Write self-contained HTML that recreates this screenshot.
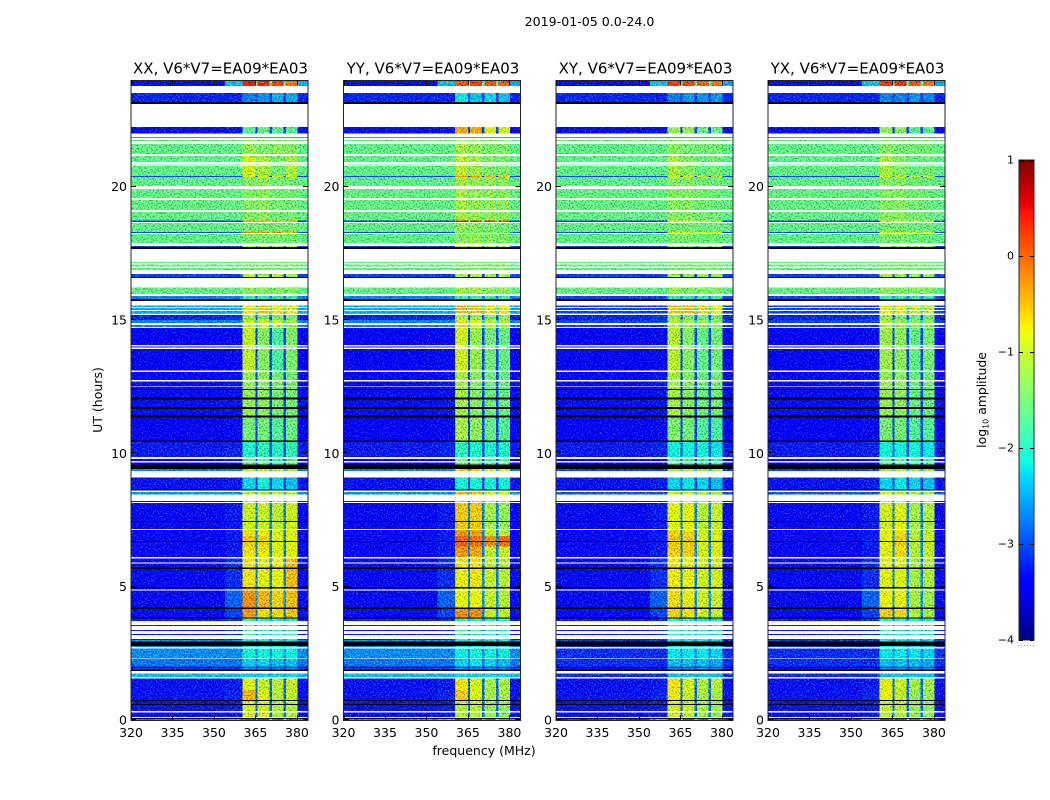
<!DOCTYPE html>
<html lang="en">
<head>
<meta charset="utf-8">
<title>2019-01-05 dynamic spectra</title>
<style>
html,body{margin:0;padding:0;background:#fff;}
svg{display:block;}
text{font-family:"DejaVu Sans","Liberation Sans",sans-serif;fill:#000;}
</style>
</head>
<body>
<svg id="figure" xmlns="http://www.w3.org/2000/svg" width="1050" height="800" viewBox="0 0 1050 800">
  <defs>
    <filter id="speckle" filterUnits="userSpaceOnUse" x="120" y="70" width="840" height="660" color-interpolation-filters="sRGB">
      <feTurbulence type="fractalNoise" baseFrequency="0.62" numOctaves="2" seed="7" result="t"/>
      <feColorMatrix in="t" type="matrix" values="1 0 0 0 0  1 0 0 0 0  1 0 0 0 0  0 0 0 0 1" result="g"/>
      <feComposite in="g" in2="SourceAlpha" operator="in" result="gi"/>
      <feComposite in="SourceGraphic" in2="gi" operator="arithmetic" k1="0" k2="1" k3="1.0" k4="-0.54"/>
    </filter>
    <linearGradient id="jet-gradient" x1="0" y1="1" x2="0" y2="0"></linearGradient>
  </defs>
  <text x="589.5" y="26" font-size="12.6" text-anchor="middle">2019-01-05 0.0-24.0</text>
  <text x="484" y="755" font-size="12.5" text-anchor="middle">frequency (MHz)</text>
  <text transform="translate(102,400) rotate(-90)" font-size="12.5" text-anchor="middle">UT (hours)</text>
  <text transform="translate(986,400) rotate(-90)" font-size="12.4" text-anchor="middle">log<tspan font-size="8" dy="2.5">10</tspan><tspan dy="-2.5"> amplitude</tspan></text>
  <g id="panels"></g>
  <g id="colorbar"></g>
</svg>
<script>
// Axis values
const freqTicks = [320, 335, 350, 365, 380];
const hourTicks = [0, 5, 10, 15, 20];
const colorTicks = [-4, -3, -2, -1, 0, 1];
const panelTitles = ['XX, V6*V7=EA09*EA03', 'YY, V6*V7=EA09*EA03', 'XY, V6*V7=EA09*EA03', 'YX, V6*V7=EA09*EA03'];

// Spectral columns (MHz)
const subbandRanges = [[360.4, 365], [365.8, 370], [371, 375.2], [376, 380.2]];
const gapRanges = [[365, 365.8], [370, 371], [375.2, 376]];
const edgeRange = [354, 360.4];
const topStripRightRange = [380.2, 384];
const topStripRightLevel = -2.5;

// Upper hour of each time segment; each segment ends where the next begins, the last ends at 0
const segmentTops = [24, 23.78, 22.24, 22, 21.15, 20.4, 20.36, 18.73, 18.67, 18.3, 18.26, 17.78, 17.67, 16.72, 16.62, 15.98, 15.79, 15.26, 15, 14.7, 13.05, 11.36, 10.43, 9.87, 9.42, 9.34, 8.65, 8.46, 7.17, 6.9, 6.5, 6.12, 4.98, 4.21, 3.85, 3, 2.29, 2.03, 1.76, 1.55, 1.125, 0.75, 0.03];

// log10 amplitude outside the subbands
const parallelBackground = [-3.3, -3.15, -3.3, -1.62, -1.62, -3, -1.6, -3, -1.62, -3, -1.62, -3, -1.6, -3, -1.62, -2.7, -2.5, -3.15, -2.7, -3.35, -3.3, -3.35, -3.2, -3.35, -2.7, -3.25, -2.6, -3.3, -3.3, -3.3, -3.3, -3.3, -3.3, -3.3, -3.2, -2.65, -2.75, -3, -2.4, -3.25, -3.25, -3.25, -2.6];
const crossBackground = [-3.3, -3.15, -3.3, -1.62, -1.62, -3, -1.6, -3, -1.62, -3, -1.62, -3, -1.6, -3, -1.62, -3, -3, -3.15, -3, -3.35, -3.3, -3.35, -3.2, -3.35, -3, -3.25, -2.9, -3.3, -3.3, -3.3, -3.3, -3.3, -3.3, -3.3, -3.2, -3.1, -3.1, -3.2, -3.1, -3.25, -3.25, -3.25, -3];
const parallelEdgeLevels = [-2.4, -3.15, -3.25, -1.62, -1.62, -3, -1.6, -3, -1.62, -3, -1.62, -3, -1.6, -3, -1.62, -2.7, -2.5, -3.1, -2.7, -3.3, -3.25, -3.3, -3.15, -3.3, -2.7, -3.2, -2.6, -3.2, -3.2, -3.2, -3.2, -3.1, -2.85, -3, -3.1, -2.65, -2.75, -3, -2.4, -3.2, -3.15, -3.2, -2.3];
const crossEdgeLevels = [-2.4, -3.15, -3.25, -1.62, -1.62, -3, -1.6, -3, -1.62, -3, -1.62, -3, -1.6, -3, -1.62, -3, -3, -3.1, -3, -3.3, -3.25, -3.3, -3.15, -3.3, -3, -3.2, -2.9, -3.2, -3.2, -3.2, -3.2, -3.1, -2.85, -3, -3.1, -3.1, -3.1, -3.2, -3.1, -3.2, -3.15, -3.2, -2.3];
const gapLevels = [-1.6, -3, -3, -1.5, -1.5, -3, -1.5, -1.5, -1.5, -1.5, -1.5, -2.5, -1.5, -3, -1.5, -2.7, -1.8, -2.9, -2.2, -3, -3, -3, -2.9, -3, -2.4, -3, -2.4, -2.7, -2.7, -2.7, -2.7, -2.7, -2.6, -2.7, -2.6, -2.6, -2.7, -3, -2.4, -2.8, -2.8, -2.8, -1];

// log10 amplitude in the four subbands, one row per time segment
const xxBands = [[.35,.3,.15,-.1],[-2.7,-2.6,-2.5,-2.5],[-1.7,-1.6,-1.7,-1.7],[-1.3,-1.45,-1.35,-1.4],[-.95,-1.2,-1.5,-1.2],[-.9,-.9,-.9,-.9],[-1.4,-1.35,-1.5,-1.5],[-.3,-.4,-.3,-.4],[-1.5,-1.5,-1.5,-1.5],[-.3,-.3,-.3,-.3],[-1.5,-1.5,-1.5,-1.5],[-1,-1.1,-1.1,-1.1],[-1.5,-1.5,-1.5,-1.5],[-1.1,-1.2,-1.1,-1.2],[-1.3,-1.4,-1.4,-1.4],[-2,-2,-2,-2],[-.75,-.55,-.7,-.9],[-1.3,-1.5,-1.5,-1.5],[-.95,-.9,-1,-1.2],[-1.05,-1.4,-1.75,-1.45],[-1.3,-1.35,-1.5,-1.5],[-1.5,-1.5,-1.7,-1.55],[-2,-1.9,-1.95,-1.9],[-1.6,-1.6,-1.85,-1.6],[-1,-1,-1.1,-1.1],[-2.3,-2.1,-2.3,-2.4],[-1.1,-1.1,-1.1,-1.1],[-1,-1,-1.05,-.95],[-.7,-.75,-.9,-.85],[-.55,-.65,-.85,-.8],[-.7,-.75,-.9,-.85],[-.7,-.85,-.8,-.5],[-.25,-.45,-.6,-.5],[-.3,-.65,-.65,-.55],[-1.8,-2,-2,-1.9],[-2.1,-2.1,-2.1,-2.15],[-2.3,-2.3,-2.4,-2.4],[-2.6,-2.6,-2.6,-2.6],[-2.3,-2.3,-2.3,-2.3],[-.85,-1.05,-1.1,-1],[-.45,-.85,-1.1,-1.05],[-.95,-.95,-1.15,-1.15],[.4,.4,.3,.2]];
const yyBands = [[.05,.15,.05,0],[-2.2,-2.4,-2.3,-2.4],[-.4,-.4,-.85,-.95],[-1.2,-1.3,-1.45,-1.45],[-1.05,-1.25,-1.45,-1.45],[-.3,-.3,-.5,-.5],[-1.2,-1.3,-1.3,-1.35],[.3,.3,.3,.3],[-1.35,-1.4,-1.45,-1.5],[-1.4,-1.4,-1.4,-1.4],[-1.35,-1.3,-1.4,-1.45],[-.9,-.9,-1,-1],[-1.45,-1.45,-1.45,-1.45],[-1.2,-1.2,-1.2,-1.2],[-1.2,-1.2,-1.3,-1.3],[-1.9,-1.9,-1.9,-1.9],[-.45,-.5,-.65,-.7],[-1.2,-1.4,-1.5,-1.4],[-.7,-.8,-1,-1.1],[-.95,-1.3,-1.5,-1.6],[-1.2,-1.4,-1.55,-1.6],[-1.2,-1.35,-1.6,-1.7],[-1.9,-2,-2,-2],[-1.5,-1.6,-1.7,-1.7],[-.6,-.6,-.9,-.9],[-2.1,-2.1,-2.1,-2.1],[-.45,-.45,-.8,-.85],[-.55,-.55,-1.2,-1.3],[-.3,-.35,-1.05,-1.1],[-.02,-.1,-.25,-.1],[-.3,-.4,-1.05,-1],[-.75,-.7,-1,-1.1],[-.8,-.8,-1,-1.1],[-.25,-.25,-1,-1.05],[-1.8,-1.9,-2,-2],[-2.15,-2.1,-2.1,-2.15],[-2.3,-2.2,-2.3,-2.4],[-2.6,-2.6,-2.6,-2.6],[-2.3,-2.3,-2.3,-2.3],[-.7,-.9,-1.2,-1.2],[-.55,-.9,-1.2,-1.2],[-1.1,-1.1,-1.3,-1.35],[.3,.3,.2,.1]];
const xyBands = [[.2,.15,0,-.1],[-2.7,-2.6,-2.6,-2.6],[-1.3,-1.3,-1.6,-1.6],[-1.4,-1.5,-1.5,-1.5],[-1.2,-1.4,-1.6,-1.5],[-.9,-.9,-1,-1],[-1.4,-1.4,-1.5,-1.55],[-.8,-.8,-.9,-.9],[-1.5,-1.5,-1.55,-1.55],[-.8,-.8,-.9,-.9],[-1.5,-1.5,-1.55,-1.55],[-1.1,-1.2,-1.2,-1.2],[-1.5,-1.5,-1.5,-1.5],[-1.2,-1.3,-1.3,-1.3],[-1.3,-1.4,-1.4,-1.4],[-2,-2,-2,-2],[-.55,-.45,-.6,-.85],[-1.3,-1.5,-1.6,-1.5],[-1.1,-1.2,-1.2,-1.3],[-1.1,-1.4,-1.6,-1.5],[-1.2,-1.4,-1.55,-1.5],[-1.45,-1.5,-1.7,-1.75],[-2.1,-2.1,-2.1,-2.2],[-1.7,-1.7,-1.8,-1.8],[-1.1,-1.1,-1.2,-1.2],[-2.3,-2.2,-2.3,-2.4],[-.95,-1,-1.1,-1.15],[-.85,-.8,-1.1,-1],[-.6,-.65,-.95,-.9],[-.55,-.55,-.9,-.85],[-.6,-.6,-.95,-.9],[-.75,-.8,-.95,-.95],[-.65,-.75,-.95,-1],[-.6,-.7,-.95,-1],[-1.9,-2,-2,-2],[-2.2,-2.2,-2.2,-2.3],[-2.4,-2.4,-2.4,-2.5],[-2.6,-2.6,-2.6,-2.6],[-2.4,-2.4,-2.4,-2.4],[-.7,-.95,-1.15,-1.1],[-.75,-1,-1.2,-1.2],[-.95,-1,-1.2,-1.25],[.4,.4,.3,.2]];
const yxBands = [[.2,.25,.05,-.1],[-2.7,-2.7,-2.6,-2.7],[-1.35,-1.4,-1.7,-1.7],[-1.4,-1.5,-1.5,-1.5],[-1.2,-1.4,-1.6,-1.5],[-.9,-.9,-1,-1],[-1.4,-1.4,-1.5,-1.55],[-.8,-.8,-.9,-.9],[-1.5,-1.5,-1.55,-1.55],[-.8,-.8,-.9,-.9],[-1.5,-1.5,-1.55,-1.55],[-1.1,-1.2,-1.2,-1.2],[-1.5,-1.5,-1.5,-1.5],[-1.2,-1.3,-1.3,-1.3],[-1.3,-1.4,-1.4,-1.4],[-2,-2,-2,-2],[-.8,-.75,-1,-1.1],[-1.3,-1.5,-1.6,-1.5],[-1.1,-1.2,-1.3,-1.3],[-1.25,-1.35,-1.6,-1.5],[-1.3,-1.35,-1.6,-1.55],[-1.5,-1.5,-1.7,-1.7],[-2.1,-2.1,-2.1,-2.2],[-1.7,-1.7,-1.8,-1.8],[-1.1,-1.1,-1.2,-1.2],[-2.3,-2.2,-2.3,-2.4],[-1,-1,-1.2,-1.2],[-.95,-.85,-1.2,-1.15],[-.8,-.7,-1.15,-1.05],[-.8,-.6,-1.1,-1],[-.85,-.65,-1.15,-1.05],[-.85,-.85,-1.2,-1.15],[-.8,-.8,-1.2,-1.25],[-.6,-.65,-1.15,-1.2],[-1.9,-2,-2,-2],[-2.2,-2.2,-2.2,-2.3],[-2.4,-2.4,-2.4,-2.5],[-2.6,-2.6,-2.6,-2.6],[-2.4,-2.4,-2.4,-2.4],[-.85,-1,-1.2,-1.2],[-.8,-1.05,-1.3,-1.3],[-1.05,-1.1,-1.3,-1.35],[.4,.4,.3,.2]];

// Flagged (blank) time ranges, [upper hour, lower hour]
const flaggedBlank = [[23.78,23.51],[23.1,22.24],[22,21.85],[21.82,21.75],[21.71,21.6],[21.22,21.15],[20.93,20.85],[20.83,20.78],[20.03,19.92],[19.58,19.5],[19.13,19.05],[18.67,18.64],[18.26,18.22],[17.89,17.78],[17.67,17.18],[17.13,17.08],[17,16.95],[16.88,16.72],[16.58,16.22],[15.98,15.9],[15.72,15.54],[15.48,15.45],[15.38,15.34],[15.25,15.19],[14.88,14.81],[14.74,14.7],[14.06,14.01],[13.96,13.91],[13.1,13.05],[12.75,12.7],[12.51,12.48],[9.87,9.79],[9.71,9.66],[9.34,9.09],[8.6,8.55],[8.46,8.21],[8.18,8.13],[7.17,7.12],[6.12,6.06],[5.9,5.86],[4.89,4.85],[3.72,3.56],[3.52,3.38],[3.34,3.22],[3.19,3.03],[2.73,2.69],[2.31,2.28],[1.84,1.75],[1.62,1.55],[.34,.29],[.12,.07]];
// Time ranges with amplitude under the colour scale (drawn black), [upper hour, lower hour]
const underRange = [[23.18,23.1],[21.85,21.82],[17.74,17.67],[16.62,16.58],[15.79,15.72],[12.41,12.38],[12.09,12.01],[11.74,11.67],[11.41,11.35],[10.49,10.43],[9.59,9.42],[8.65,8.6],[7.46,7.43],[6.71,6.68],[5.71,5.67],[4.98,4.94],[4.21,4.17],[3.84,3.81],[2.94,2.78],[1.99,1.97],[1.91,1.89],[1.875,1.84],[.75,.71],[.6,.56],[.07,.03]];

const SVGNS = 'http://www.w3.org/2000/svg';
const panelLefts = [131, 343.5, 556, 768];
const panelWidth = 177, plotTop = 80, plotHeight = 640;
const freqMin = 320, freqMax = 384, hourMax = 24;
const colorMin = -4, colorMax = 1;
const panelBands = [xxBands, yyBands, xyBands, yxBands];
const panelBackgrounds = [parallelBackground, parallelBackground, crossBackground, crossBackground];
const panelEdges = [parallelEdgeLevels, parallelEdgeLevels, crossEdgeLevels, crossEdgeLevels];
const panelKeys = ['xx', 'yy', 'xy', 'yx'];

const jetRed = [[0,0],[.35,0],[.66,1],[.89,1],[1,.5]];
const jetGreen = [[0,0],[.125,0],[.375,1],[.64,1],[.91,0],[1,0]];
const jetBlue = [[0,.5],[.11,1],[.34,1],[.65,0],[1,0]];
function channel(stops, t) {
  for (let i = 1; i < stops.length; i++) {
    if (t <= stops[i][0]) {
      const a = stops[i - 1], b = stops[i];
      return a[1] + (b[1] - a[1]) * (t - a[0]) / (b[0] - a[0]);
    }
  }
  return stops[stops.length - 1][1];
}
function jet(t) {
  t = Math.max(0, Math.min(1, t));
  return 'rgb(' + Math.round(255 * channel(jetRed, t)) + ',' + Math.round(255 * channel(jetGreen, t)) + ',' + Math.round(255 * channel(jetBlue, t)) + ')';
}
function colorOf(level) { return jet((level - colorMin) / (colorMax - colorMin)); }
function xScale(left, f) { return left + (f - freqMin) * panelWidth / (freqMax - freqMin); }
function yScale(h) { return plotTop + (hourMax - h) * plotHeight / hourMax; }
function el(tag, parent) {
  const node = document.createElementNS(SVGNS, tag);
  parent.appendChild(node);
  return node;
}
function setRect(node, x0, y0, x1, y1, fill) {
  node.setAttribute('x', x0);
  node.setAttribute('y', y0);
  node.setAttribute('width', x1 - x0);
  node.setAttribute('height', y1 - y0);
  node.setAttribute('fill', fill);
  node.setAttribute('shape-rendering', 'crispEdges');
}

function drawPanel(index) {
  const left = panelLefts[index];
  const root = document.getElementById('panels');
  const panel = el('g', root);
  
  

  const heat = el('g', panel);
  
  
  heat.setAttribute('filter', 'url(#speckle)');

  const bg = panelBackgrounds[index];
  const edges = panelEdges[index];
  const bands = panelBands[index];
  segmentTops.forEach(function (top, s) {
    const bottom = s + 1 < segmentTops.length ? segmentTops[s + 1] : 0;
    const y0 = yScale(top), y1 = yScale(bottom);
    const strips = [[freqMin, freqMax, bg[s]], [edgeRange[0], edgeRange[1], edges[s]]];
    if (s === 0) { strips.push([topStripRightRange[0], topStripRightRange[1], topStripRightLevel]); }
    gapRanges.forEach(function (g) { strips.push([g[0], g[1], gapLevels[s]]); });
    subbandRanges.forEach(function (r, b) { strips.push([r[0], r[1], bands[s][b]]); });
    strips.forEach(function (strip) {
      const cell = el('rect', heat);
      
      
      setRect(cell, xScale(left, strip[0]), y0, xScale(left, strip[1]), y1, colorOf(strip[2]));
    });
  });

  flaggedBlank.forEach(function (range) {
    const blank = el('rect', panel);
    
    
    setRect(blank, left, yScale(range[0]), left + panelWidth, yScale(range[1]), '#fff');
  });
  underRange.forEach(function (range) {
    const under = el('rect', panel);
    
    
    setRect(under, left, yScale(range[0]), left + panelWidth, yScale(range[1]), '#000');
  });

  const frame = el('rect', panel);
  
  
  frame.setAttribute('x', left);
  frame.setAttribute('y', plotTop + 0.5);
  frame.setAttribute('width', panelWidth);
  frame.setAttribute('height', plotHeight);
  frame.setAttribute('fill', 'none');
  frame.setAttribute('stroke', '#222');
  frame.setAttribute('stroke-width', '1');

  freqTicks.forEach(function (f) {
    const x = Math.round(xScale(left, f)) + 0.5;
    [[plotTop + plotHeight, plotTop + plotHeight - 5], [plotTop, plotTop + 5]].forEach(function (t) {
      const tick = el('line', panel);
      
      
      tick.setAttribute('x1', x); tick.setAttribute('x2', x);
      tick.setAttribute('y1', t[0]); tick.setAttribute('y2', t[1]);
      tick.setAttribute('stroke', '#000');
    });
    const label = el('text', panel);
    
    
    label.setAttribute('x', xScale(left, f));
    label.setAttribute('y', 737);
    label.setAttribute('font-size', '12.5');
    label.setAttribute('text-anchor', 'middle');
    label.textContent = String(f);
  });
  hourTicks.forEach(function (h) {
    const y = Math.round(yScale(h)) - 0.5;
    [[left, left + 5], [left + panelWidth, left + panelWidth - 5]].forEach(function (t) {
      const tick = el('line', panel);
      
      
      tick.setAttribute('x1', t[0]); tick.setAttribute('x2', t[1]);
      tick.setAttribute('y1', y); tick.setAttribute('y2', y);
      tick.setAttribute('stroke', '#000');
    });
    const label = el('text', panel);
    
    
    label.setAttribute('x', left - 4);
    label.setAttribute('y', yScale(h) + 4.5);
    label.setAttribute('font-size', '12.5');
    label.setAttribute('text-anchor', 'end');
    label.textContent = String(h);
  });
  const title = el('text', panel);
  
  
  title.setAttribute('x', left + panelWidth / 2 + 1);
  title.setAttribute('y', 73.5);
  title.setAttribute('font-size', '15');
  title.setAttribute('text-anchor', 'middle');
  title.textContent = panelTitles[index];
}
panelTitles.forEach(function (t, i) { drawPanel(i); });

function drawColorbar() {
  const cbLeft = 1019, cbWidth = 15, cbTop = 160, cbHeight = 480;
  const cbY = function (v) { return cbTop + (colorMax - v) * cbHeight / (colorMax - colorMin); };
  const grad = document.getElementById('jet-gradient');
  for (let i = 0; i <= 100; i++) {
    const stop = el('stop', grad);
    stop.setAttribute('offset', (i / 100).toFixed(2));
    stop.setAttribute('stop-color', jet(i / 100));
  }
  const root = document.getElementById('colorbar');
  const bar = el('rect', root);
  
  
  bar.setAttribute('x', cbLeft);
  bar.setAttribute('y', cbTop);
  bar.setAttribute('width', cbWidth);
  bar.setAttribute('height', cbHeight);
  bar.setAttribute('fill', 'url(#jet-gradient)');
  bar.setAttribute('stroke', '#222');
  bar.setAttribute('stroke-width', '1');
  for (let i = 1; i < 7; i++) {
    [[cbTop, cbTop + 4], [cbTop + cbHeight, cbTop + cbHeight - 4]].forEach(function (t) {
      const minor = el('line', root);
      
      
      minor.setAttribute('x1', cbLeft + i * 2 + 0.5);
      minor.setAttribute('x2', cbLeft + i * 2 + 0.5);
      minor.setAttribute('y1', t[0]);
      minor.setAttribute('y2', t[1]);
      minor.setAttribute('stroke', '#000');
    });
  }
  colorTicks.forEach(function (v) {
    const y = Math.round(cbY(v)) + 0.5;
    [[cbLeft, cbLeft + 4], [cbLeft + cbWidth, cbLeft + cbWidth - 4]].forEach(function (t) {
      const tick = el('line', root);
      
      
      tick.setAttribute('x1', t[0]); tick.setAttribute('x2', t[1]);
      tick.setAttribute('y1', y); tick.setAttribute('y2', y);
      tick.setAttribute('stroke', '#000');
    });
    const label = el('text', root);
    
    
    label.setAttribute('x', cbLeft - 5);
    label.setAttribute('y', cbY(v) + 3.5);
    label.setAttribute('font-size', '11');
    label.setAttribute('text-anchor', 'end');
    label.textContent = v < 0 ? '\u2212' + Math.abs(v) : String(v);
  });
  const dots = el('line', root);
  
  
  dots.setAttribute('x1', cbLeft - 1);
  dots.setAttribute('x2', cbLeft + cbWidth);
  dots.setAttribute('y1', 645.5);
  dots.setAttribute('y2', 645.5);
  dots.setAttribute('stroke', '#999');
  dots.setAttribute('stroke-dasharray', '1 2');
}
drawColorbar();
</script>
</body>
</html>
